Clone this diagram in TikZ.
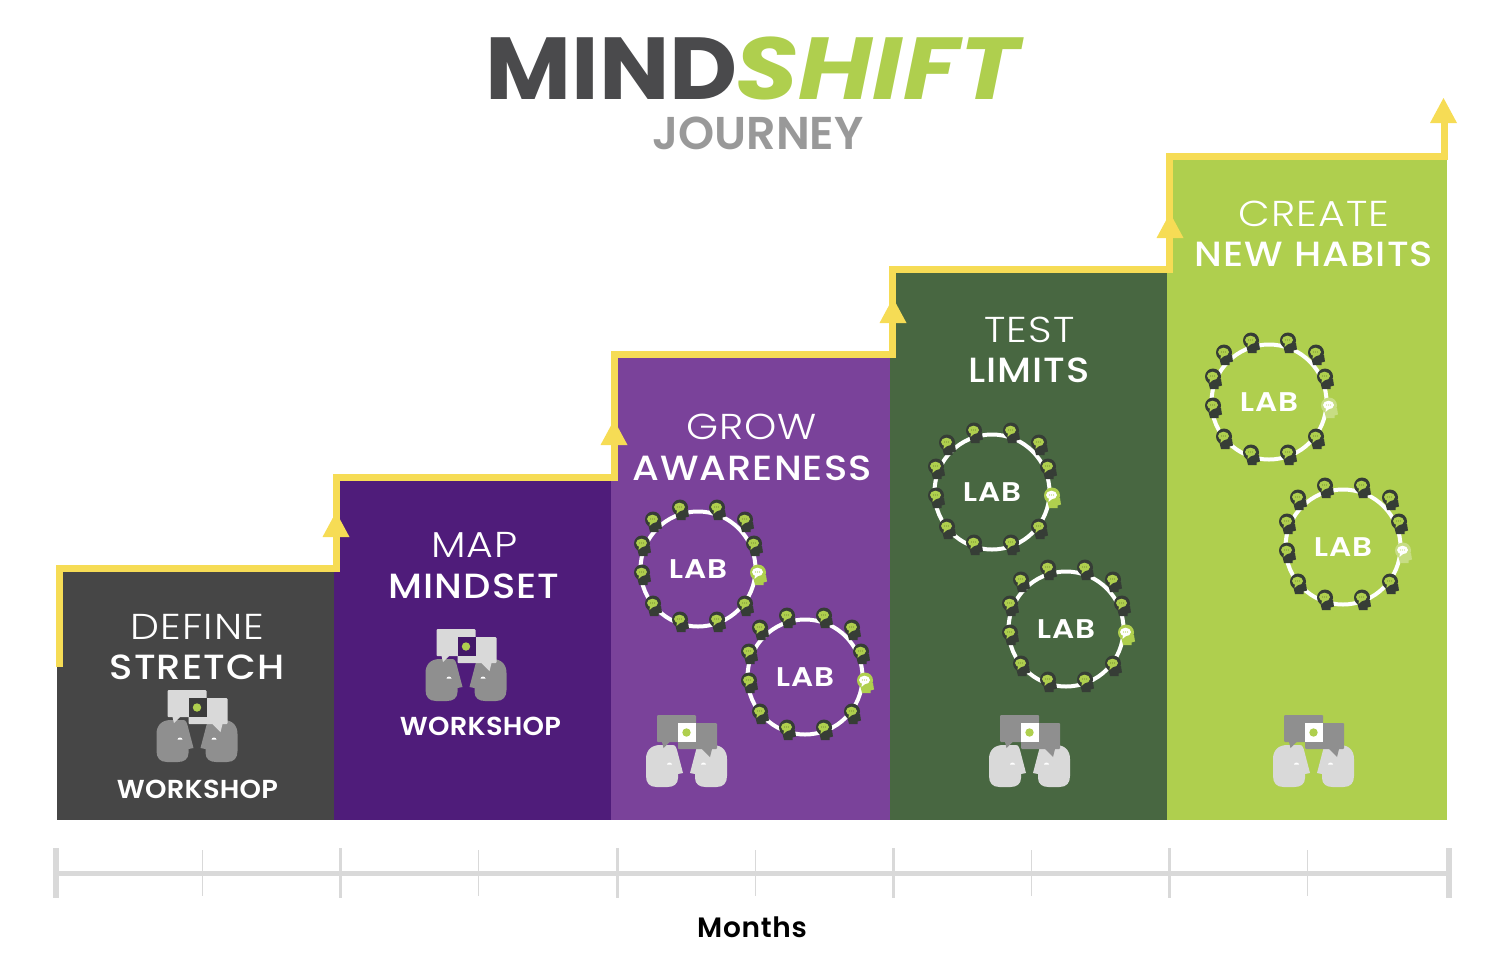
\documentclass[tikz,border=0pt]{standalone}
\usepackage{fontspec}
\setmainfont{Poppins}
\newfontfamily\thinfont[FakeStretch=1.14,LetterSpace=3]{Poppins Light}
\newfontfamily\midfont[FakeStretch=1.1,LetterSpace=3]{Poppins Medium}
\newfontfamily\shopfont[FakeStretch=1.05,LetterSpace=1]{Poppins SemiBold}
\newfontfamily\labfont[FakeStretch=1.15,LetterSpace=3]{Poppins SemiBold}
\newfontfamily\monthfont[LetterSpace=2.5]{Poppins SemiBold}
\newfontfamily\subfont{Poppins SemiBold}
\newfontfamily\mindfont[FakeStretch=1.065]{Poppins Bold}
\newfontfamily\shiftfont[FakeStretch=1.15,LetterSpace=0.5]{Poppins Bold}
\definecolor{stepone}{HTML}{464646}
\definecolor{steptwo}{HTML}{4F1C7A}
\definecolor{stepthree}{HTML}{7A429A}
\definecolor{stepfour}{HTML}{486741}
\definecolor{stepfive}{HTML}{AFCF4E}
\definecolor{risecol}{HTML}{F6DC55}
\definecolor{titlegrey}{HTML}{4A4A4C}
\definecolor{subgrey}{HTML}{999999}
\definecolor{axiscol}{HTML}{D9D9D9}
\definecolor{headdark}{HTML}{363D36}
\definecolor{iconlight}{HTML}{D9D9D9}
\definecolor{icongrey}{HTML}{8F8F8F}
\tikzstyle{thinlabel} = [white, font={\thinfont\fontsize{36}{36}\selectfont}]
\tikzstyle{boldlabel} = [white, font={\midfont\fontsize{35}{35}\selectfont}]
\tikzstyle{shoplabel} = [white, font={\shopfont\fontsize{26}{26}\selectfont}]
\tikzstyle{lablabel} = [white, font={\labfont\fontsize{27}{27}\selectfont}]
\tikzstyle{rise} = [draw=risecol, line width=7pt]
\newcommand{\risearrow}[3]{
  \coordinate (#3) at (#1,#2);
  \fill[risecol] (#3) -- ++(-13.5,25) -- ++(27,0) -- cycle;
}
\newcommand{\labhead}[5]{
  \begin{scope}[shift={(#1,#2)}]
    \fill[#3] (0,-1.5) circle (8);
    \fill[#3] (-5,3) -- (8,1) -- (9,7.5) -- (5.5,8.5) -- (5.5,11) -- (-3,11) -- cycle;
    \fill[#4] (-0.5,-2) ellipse (5.5 and 4.3);
    \fill[#4] (-3,0.5) -- (-3.5,5) -- (0.5,1.5) -- cycle;
    \fill[#5] (-2.5,-2) circle (0.6);
    \fill[#5] (-0.5,-2) circle (0.6);
    \fill[#5] (1.5,-2) circle (0.6);
  \end{scope}
}
\newcommand{\labring}[7]{
  \begin{scope}[shift={(#2,#3)}]
    \draw[white, line width=4pt] (0,0) circle (57.5);
    \node[lablabel] (#1) at (0,0) {LAB};
    \labhead{-18}{-60}{#4}{#5}{#5!70!black}
    \labhead{19}{-60}{#4}{#5}{#5!70!black}
    \labhead{47}{-48}{#4}{#5}{#5!70!black}
    \labhead{56}{-24}{#4}{#5}{#5!70!black}
    \labhead{47}{36}{#4}{#5}{#5!70!black}
    \labhead{19}{52}{#4}{#5}{#5!70!black}
    \labhead{-18}{52}{#4}{#5}{#5!70!black}
    \labhead{-45}{36}{#4}{#5}{#5!70!black}
    \labhead{-56}{5}{#4}{#5}{#5!70!black}
    \labhead{-56}{-24}{#4}{#5}{#5!70!black}
    \labhead{-45}{-48}{#4}{#5}{#5!70!black}
    \labhead{60}{5}{#6}{#7}{#6}
  \end{scope}
}
\newcommand{\shophead}[2]{
  \fill[#1] (-26,-5) -- (-13.5,-5) .. controls (-11,-5) and (-10,-2) .. (-9,2) -- (-3.5,23) -- (-8.5,24) -- (-8.5,28) .. controls (-8.5,34) and (-13,37) .. (-19,37) -- (-30,37) .. controls (-37,37) and (-40.5,33) .. (-40.5,26) -- (-40.5,9) .. controls (-40.5,0) and (-35,-5) .. (-26,-5) -- cycle;
  \fill[#2] (-19.5,14.5) arc (180:360:2.5 and 2) -- cycle;
}
\newcommand{\shopicon}[7]{
  \begin{scope}[shift={(#2,#3)}]
    \coordinate (#1) at (0,0);
    \shophead{#4}{white}
    \begin{scope}[xscale=-1]
      \shophead{#4}{white}
    \end{scope}
    \fill[#5, rounded corners=1pt] (-29.5,-35) rectangle (9.5,-8);
    \fill[#5] (-24.5,-8) -- (-23,-2) -- (-17,-8) -- cycle;
    \fill[#5, rounded corners=1pt] (-8.5,-27) rectangle (30.5,-1);
    \fill[#5] (15.5,-1) -- (23.5,7) -- (25.5,-1) -- cycle;
    \fill[#6] (-8.5,-27) rectangle (9.5,-8);
    \fill[#7] (0,-17.5) circle (4.2);
  \end{scope}
}
\begin{document}
\begin{tikzpicture}[x=1pt,y=-1pt]
    \useasboundingbox (0,0) rectangle (1501,964);
    \node[font={\mindfont\fontsize{88}{88}\selectfont}, titlegrey, anchor=base east, inner sep=0pt](mind) at (738,99){MIND};
    \node[font={\shiftfont\fontsize{88}{88}\selectfont\itshape}, stepfive, anchor=base west, inner sep=0pt](shift) at (735,99){SHIFT};
    \node[font={\subfont\fontsize{46}{46}\selectfont}, subgrey, inner sep=0pt](journey) at (758,133){JOURNEY};
    \fill[stepone] (57,572) rectangle (334,820);
    \fill[steptwo] (334,481) rectangle (611,820);
    \fill[stepthree] (611,358) rectangle (890,820);
    \fill[stepfour] (890,272) rectangle (1167,820);
    \fill[stepfive] (1167,160) rectangle (1447,820);
    \coordinate (start) at (59,667);
    \coordinate (end) at (1444,110);
    \draw[rise] (start) |- (336,568) |- (614,477) |- (892,354) |- (1169,269) |- (1444,156.5) -- (end);
    \risearrow{336}{512}{tipa}
    \risearrow{614}{420}{tipb}
    \risearrow{893}{298}{tipc}
    \risearrow{1170}{213}{tipd}
    \risearrow{1443.5}{98}{tipe}
    \node[thinlabel](define) at (197.5,627){DEFINE};
    \node[boldlabel](stretch) at (197,667){STRETCH};
    \node[shoplabel](shopa) at (197.5,789){WORKSHOP};
    \node[thinlabel](map) at (474.5,545){MAP};
    \node[boldlabel](mindset) at (474,586){MINDSET};
    \node[shoplabel](shopb) at (480.5,726){WORKSHOP};
    \node[thinlabel](grow) at (751.5,427){GROW};
    \node[boldlabel](awareness) at (752,468){AWARENESS};
    \node[thinlabel](test) at (1029.5,330){TEST};
    \node[boldlabel](limits) at (1029,370){LIMITS};
    \node[thinlabel](create) at (1314,214){CREATE};
    \node[boldlabel](habits) at (1314,254){NEW HABITS};
    \shopicon{icona}{197}{725}{icongrey}{iconlight}{stepone!85!black}{stepfive}
    \shopicon{iconb}{466}{664}{icongrey}{iconlight}{steptwo!85!black}{stepfive}
    \shopicon{iconc}{686.5}{750}{iconlight}{icongrey}{white}{stepfive}
    \shopicon{icond}{1029.5}{750}{iconlight}{icongrey}{white}{stepfive}
    \shopicon{icone}{1313.5}{750}{iconlight}{icongrey}{white}{stepfive}
    \labring{laba}{698}{569}{headdark}{stepfive}{stepfive}{white}
    \labring{labb}{805}{677}{headdark}{stepfive}{stepfive}{white}
    \labring{labc}{992}{492}{headdark}{stepfive}{stepfive}{white}
    \labring{labd}{1066}{629}{headdark}{stepfive}{stepfive}{white}
    \labring{labe}{1269}{402}{headdark}{stepfive}{stepfive!70!white}{white}
    \labring{labf}{1343}{547}{headdark}{stepfive}{stepfive!70!white}{white}
    \draw[axiscol, line width=5pt] (55,873) -- (1449,873);
    \foreach \tickx/\tickw in {56/6,340/3,617/3,893/3,1169/3,1449/6}
      \draw[axiscol, line width=\tickw pt] (\tickx,848) -- (\tickx,898);
    \foreach \tickx in {202,478,755,1031,1307}
      \draw[axiscol, line width=1pt] (\tickx,850) -- (\tickx,896);
    \node[font={\monthfont\fontsize{28}{28}\selectfont}, black](months) at (752,927){Months};
\end{tikzpicture}
\end{document}
